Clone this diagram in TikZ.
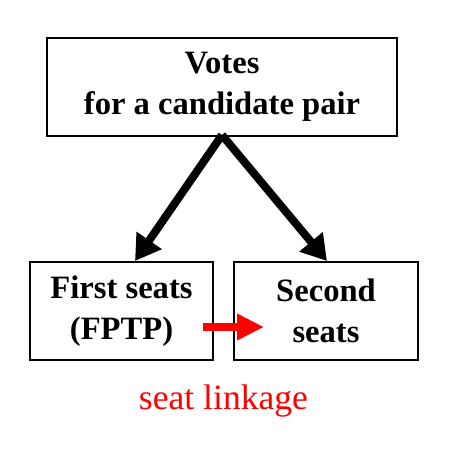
\documentclass[tikz,border=0pt]{standalone}
\usepackage{fontspec}
\setmainfont{Liberation Serif}
\usetikzlibrary{arrows.meta}

\begin{document}
\begin{tikzpicture}[x=1pt,y=-1pt]
            \useasboundingbox (0,0) rectangle (450,450);
            \tikzset{
                seatbox/.style={draw, line width=2pt, minimum height=98pt, inner sep=0pt,
                    align=center, font=\fontsize{32.6}{41}\selectfont\bfseries},
                votearrow/.style={line width=8pt, -{Triangle[length=25pt,width=29pt]}},
                linkarrow/.style={red, line width=8pt, -{Triangle[length=27pt,width=25pt]}}
            }
            \node[seatbox, minimum width=350pt] (votes) at (222,87) {Votes\\for a candidate pair};
            \node[seatbox, minimum width=183pt] (first) at (121.5,311) {First seats\\(FPTP)};
            \node[seatbox, minimum width=184pt] (second) at (326,311) {Second\\seats};
            \draw[votearrow] ([yshift=2pt]votes.south) -- ([xshift=13.5pt]first.north);
            \draw[votearrow] ([yshift=2pt]votes.south) -- ([xshift=1pt]second.north);
            \draw[linkarrow] ([shift={(-11pt,-16pt)}]first.east) -- ([shift={(31pt,-16pt)}]second.west);
            \node[red, font=\fontsize{35.6}{40}\selectfont] (linkage) at (223.5,401) {seat linkage};
        \end{tikzpicture}
\end{document}
